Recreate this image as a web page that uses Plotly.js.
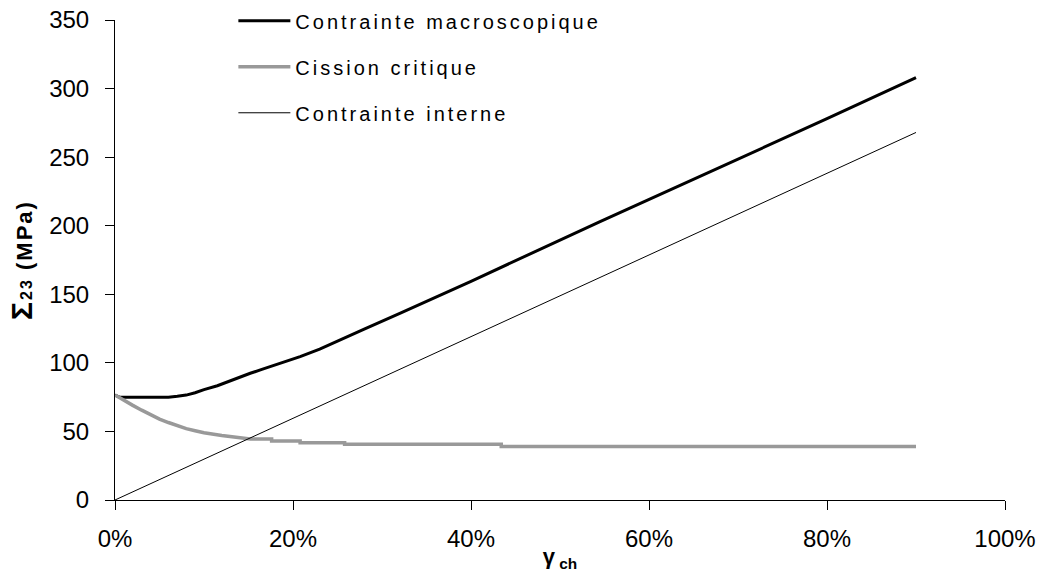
<!DOCTYPE html>
<html>
<head>
<meta charset="utf-8">
<script src="https://cdn.plot.ly/plotly-3.0.1.min.js"></script>
<style>
html,body{margin:0;padding:0;background:#fff;}
#chart{width:1050px;height:572px;}
.legendtext{letter-spacing:3px;}
.ytitle{letter-spacing:2px;}
</style>
</head>
<body>
<div id="chart"></div>
<script>
// Series names
var seriesNames = ["Contrainte macroscopique", "Cission critique", "Contrainte interne"];

// Contrainte macroscopique (MPa) vs gamma_ch
var macroX = [0, 0.005, 0.03, 0.06, 0.07, 0.08, 0.09, 0.10, 0.115, 0.127, 0.14, 0.152, 0.165, 0.18, 0.195, 0.208, 0.23, 0.25, 0.28, 0.32, 0.36, 0.40, 0.545, 0.657, 0.80, 0.90];
var macroY = [76.5, 75, 75, 75, 75.6, 76.5, 78.2, 80.5, 83.3, 86.3, 89.4, 92.4, 95.2, 98.4, 101.6, 104.5, 110, 116, 124.6, 136, 147.5, 159.5, 203, 235.8, 278, 308];

// Cission critique (MPa)
var critX = [0, 0.01, 0.02, 0.03, 0.04, 0.05, 0.06, 0.07, 0.08, 0.09, 0.10, 0.12, 0.14, 0.152, 0.176, 0.176, 0.208, 0.208, 0.258, 0.258, 0.434, 0.434, 0.90];
var critY = [76.5, 72.5, 69, 65.5, 62, 59, 56.5, 54, 52, 50.5, 49, 47, 45.7, 44.5, 44.5, 43, 43, 41.8, 41.8, 40.6, 40.6, 39.1, 39.1];

// Contrainte interne (MPa)
var interneX = [0, 0.2, 0.4, 0.6, 0.8, 0.9];
var interneY = [0, 59.5, 119, 178.5, 238, 268];

// Axis ticks
var xTickVals = [0, 0.2, 0.4, 0.6, 0.8, 1.0];
var xTickText = ["0%", "20%", "40%", "60%", "80%", "100%"];
var yTickVals = [0, 50, 100, 150, 200, 250, 300, 350];

var FONT = "Liberation Sans, Arial, sans-serif";

var traces = [
  {x: macroX, y: macroY, name: seriesNames[0], mode: "lines", legendgroup: "a",
   line: {color: "#000000", width: 3}},
  {x: critX, y: critY, name: seriesNames[1], mode: "lines", legendgroup: "b",
   line: {color: "#999999", width: 3.5}},
  {x: interneX, y: interneY, name: seriesNames[2], mode: "lines", legendgroup: "c",
   line: {color: "#000000", width: 1}}
];

var layout = {
  width: 1050, height: 572,
  margin: {l: 115, r: 45, t: 20, b: 72, autoexpand: false},
  paper_bgcolor: "#ffffff", plot_bgcolor: "#ffffff",
  font: {family: FONT, size: 24, color: "#000000"},
  showlegend: true,
  legend: {x: 0.133, xanchor: "left", y: 1.039, yanchor: "top",
           bgcolor: "rgba(0,0,0,0)", borderwidth: 0, itemwidth: 52,
           font: {family: FONT, size: 20, color: "#000"},
           tracegroupgap: 17, traceorder: "grouped"},
  xaxis: {range: [0, 1], tickvals: xTickVals, ticktext: xTickText,
          showgrid: false, zeroline: false, showline: true, linecolor: "#000", linewidth: 1,
          ticks: "outside", ticklen: 9, tickcolor: "#000", ticklabelstandoff: 8,
          tickfont: {family: FONT, size: 24},
          title: {text: "<b>γ<sub> ch</sub></b>", font: {family: FONT, size: 22}, standoff: 0}},
  yaxis: {range: [0, 350], tickvals: yTickVals,
          showgrid: false, zeroline: false, showline: true, linecolor: "#000", linewidth: 1,
          ticks: "outside", ticklen: 9, tickcolor: "#000", ticklabelstandoff: 11,
          tickfont: {family: FONT, size: 24},
          title: {text: "<b><span style=\"font-size:30px\">Σ</span><span style=\"font-size:16px\">23</span> (MPa)</b>",
                  font: {family: FONT, size: 22}, standoff: 10}}
};

Plotly.newPlot("chart", traces, layout, {displayModeBar: false, staticPlot: true});
</script>
</body>
</html>
